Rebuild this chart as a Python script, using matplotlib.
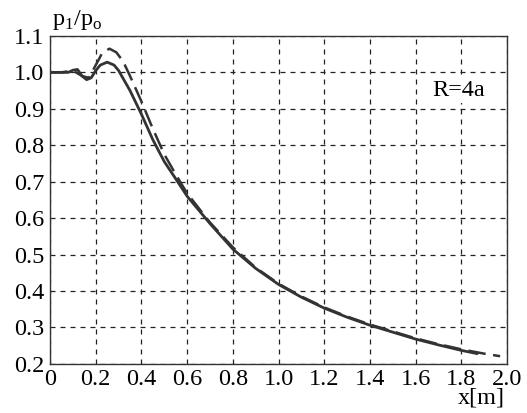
import numpy as np
import matplotlib
matplotlib.use("Agg")
import matplotlib.pyplot as plt

# solid curve
x_solid = [0.0, 0.05, 0.08, 0.10, 0.12, 0.14, 0.16, 0.18, 0.20, 0.22, 0.25,
           0.28, 0.30, 0.35, 0.40, 0.45, 0.50, 0.55, 0.60, 0.70, 0.80, 0.90,
           1.00, 1.10, 1.20, 1.30, 1.40, 1.50, 1.60, 1.70, 1.80, 1.87]
y_solid = [1.0, 1.0, 1.0, 1.006, 1.008, 0.99, 0.98, 0.985, 1.005, 1.02, 1.028,
           1.02, 1.005, 0.95, 0.885, 0.815, 0.755, 0.708, 0.66, 0.585, 0.515, 0.462,
           0.418, 0.383, 0.353, 0.328, 0.306, 0.287, 0.268, 0.252, 0.237, 0.228]

# dashed curve
x_dash = [0.0, 0.05, 0.10, 0.14, 0.17, 0.20, 0.23, 0.26, 0.29, 0.32, 0.35,
          0.40, 0.45, 0.50, 0.55, 0.60, 0.70, 0.80, 0.90, 1.00, 1.10, 1.20,
          1.30, 1.40, 1.50, 1.60, 1.70, 1.80, 1.90, 1.97]
y_dash = [1.0, 1.0, 1.005, 0.99, 0.985, 1.02, 1.055, 1.065, 1.055, 1.03, 0.99,
          0.92, 0.845, 0.775, 0.72, 0.668, 0.588, 0.52, 0.464, 0.42, 0.385, 0.355,
          0.33, 0.308, 0.289, 0.27, 0.254, 0.24, 0.228, 0.221]

xticks = [0, 0.2, 0.4, 0.6, 0.8, 1.0, 1.2, 1.4, 1.6, 1.8, 2.0]
xlabels = ["0", "0.2", "0.4", "0.6", "0.8", "1.0", "1.2", "1.4", "1.6", "1.8", "2.0"]
yticks = [0.2, 0.3, 0.4, 0.5, 0.6, 0.7, 0.8, 0.9, 1.0, 1.1]
ylabels = ["0.2", "0.3", "0.4", "0.5", "0.6", "0.7", "0.8", "0.9", "1.0", "1.1"]

plt.rcParams["font.family"] = ["Liberation Serif", "DejaVu Serif"]
plt.rcParams["mathtext.fontset"] = "custom"
plt.rcParams["mathtext.rm"] = "Liberation Serif"

fig = plt.figure(figsize=(5.27, 4.13), dpi=100)
ax = fig.add_axes([0.095, 0.119, 0.867, 0.794])

ax.plot(x_solid, y_solid, color="#333333", lw=2.0, solid_capstyle="round")
ax.plot(x_dash, y_dash, color="#333333", lw=1.8, dashes=(7, 3))

ax.set_xlim(0, 2.0)
ax.set_ylim(0.2, 1.1)
ax.set_xticks(xticks)
ax.set_xticklabels(xlabels)
ax.set_yticks(yticks)
ax.set_yticklabels(ylabels)
ax.tick_params(length=0, labelsize=17.5)
ax.tick_params(axis="x", pad=4)
ax.tick_params(axis="y", pad=4)

ax.grid(True, color="#222222", lw=0.9, linestyle=(0, (4, 4)))
for s in ax.spines.values():
    s.set_linewidth(1.0)
    s.set_color("#333333")

ax.text(1.79, 0.95, "R=4a", fontsize=17.5, ha="center", va="center",
        bbox=dict(facecolor="white", edgecolor="none", pad=1))
fig.text(0.098, 0.922, r"p$_\mathrm{1}$/p$_\mathrm{o}$", fontsize=17.5, ha="left", va="bottom")
fig.text(0.957, 0.01, "x[m]", fontsize=17.5, ha="right", va="bottom")

fig.savefig("out.png", dpi=100)
